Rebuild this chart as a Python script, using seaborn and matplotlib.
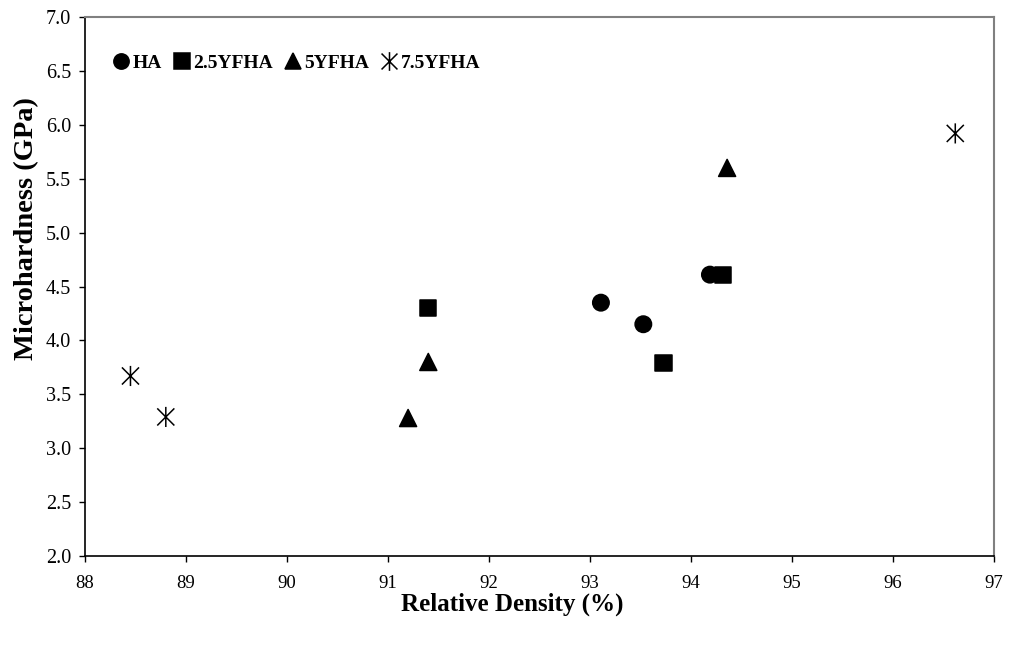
import matplotlib
matplotlib.use("Agg")
import matplotlib.pyplot as plt
import pandas as pd
import seaborn as sns
from matplotlib.lines import Line2D
from matplotlib.path import Path

# values
groups = ["HA", "2.5YFHA", "5YFHA", "7.5YFHA"]
ha_density = [93.11, 93.53, 94.19]
ha_hardness = [4.35, 4.15, 4.61]
yf25_density = [91.40, 93.73, 94.32]
yf25_hardness = [4.30, 3.79, 4.61]
yf5_density = [91.20, 91.40, 94.36]
yf5_hardness = [3.28, 3.80, 5.60]
yf75_density = [88.45, 88.80, 96.62]
yf75_hardness = [3.67, 3.29, 5.92]

x_ticks = list(range(88, 98))
y_ticks = [2.0, 2.5, 3.0, 3.5, 4.0, 4.5, 5.0, 5.5, 6.0, 6.5, 7.0]

df = pd.DataFrame({
    "density": ha_density + yf25_density + yf5_density + yf75_density,
    "hardness": ha_hardness + yf25_hardness + yf5_hardness + yf75_hardness,
    "sample": ["HA"] * 3 + ["2.5YFHA"] * 3 + ["5YFHA"] * 3 + ["7.5YFHA"] * 3,
})

# excel-style star: vertical bar plus an X
star = Path(
    [(0, -1), (0, 1), (-0.85, -0.85), (0.85, 0.85), (-0.85, 0.85), (0.85, -0.85)],
    [Path.MOVETO, Path.LINETO, Path.MOVETO, Path.LINETO, Path.MOVETO, Path.LINETO],
)
markers = {"HA": "o", "2.5YFHA": "s", "5YFHA": "^", "7.5YFHA": star}
marker_sizes = {"HA": 140, "2.5YFHA": 135, "5YFHA": 150, "7.5YFHA": 210}

sns.set_style("white")
plt.rcParams["font.family"] = ["Liberation Serif", "DejaVu Serif"]
plt.rcParams["text.color"] = "black"
plt.rcParams["axes.labelcolor"] = "black"
plt.rcParams["xtick.color"] = "black"
plt.rcParams["ytick.color"] = "black"

fig = plt.figure(figsize=(10.1, 6.46), dpi=100)
ax = fig.add_axes([0.0842, 0.1393, 0.8996, 0.8344])

sns.scatterplot(
    data=df, x="density", y="hardness", style="sample", style_order=groups,
    size="sample", sizes=marker_sizes, size_order=groups,
    markers=markers, color="black", edgecolor="black", linewidth=1.1,
    legend=False, ax=ax,
)

ax.set_xlim(88, 97)
ax.set_ylim(2.0, 7.0)
ax.set_xticks(x_ticks)
ax.set_yticks(y_ticks)
ax.set_yticklabels([f"{v:.1f}" for v in y_ticks])
ax.tick_params(axis="both", direction="out", length=4, width=1,
               bottom=True, left=True)
ax.tick_params(axis="x", pad=10, labelsize=13.5)
ax.tick_params(axis="y", pad=6, labelsize=14.5)

for side in ["left", "bottom"]:
    ax.spines[side].set_color("black")
    ax.spines[side].set_linewidth(1.2)
for side in ["top", "right"]:
    ax.spines[side].set_color("#808080")
    ax.spines[side].set_linewidth(1.5)

ax.set_xlabel("Relative Density (%)", fontsize=18, fontweight="bold")
ax.set_ylabel("Microhardness (GPa)", fontsize=20.5, fontweight="bold")
ax.xaxis.set_label_coords(0.47, -0.068)
ax.yaxis.set_label_coords(-0.05, 0.607)

handles = [
    Line2D([], [], linestyle="none", marker=markers[g], color="black",
           markerfacecolor="black", markeredgecolor="black",
           markersize=(marker_sizes[g] ** 0.5) * 0.93, markeredgewidth=1.1)
    for g in groups
]
ax.legend(handles, groups, ncol=4, loc="center left", bbox_to_anchor=(0.009, 0.914),
          frameon=False, handletextpad=0.05, columnspacing=0.45, handlelength=1.1,
          prop={"weight": "bold", "size": 14})

fig.savefig("out.png", dpi=100)
